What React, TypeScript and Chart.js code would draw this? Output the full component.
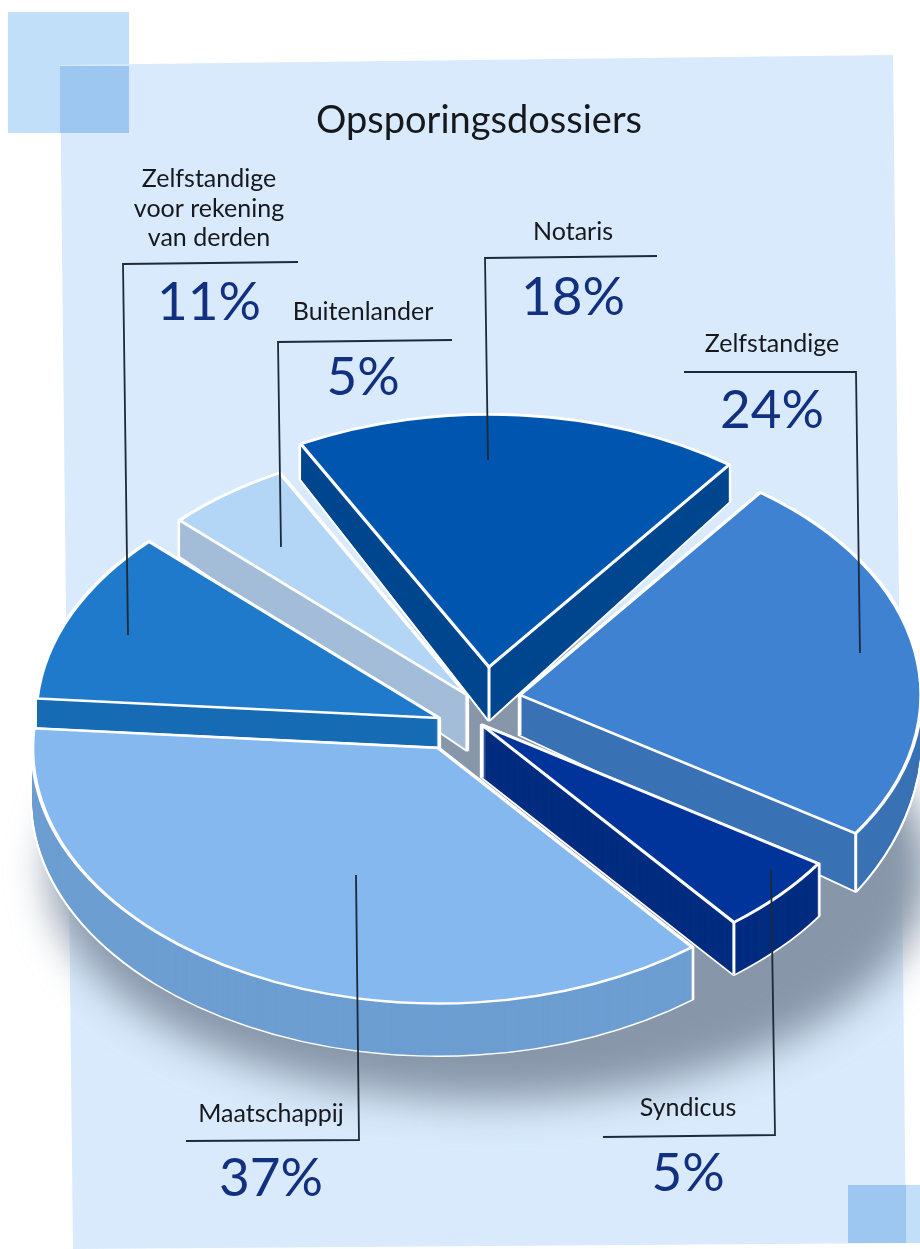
import { useEffect, useRef } from "react";
import { Chart, registerables } from "chart.js";

Chart.register(...registerables);

// Share of investigation files per type of party, clockwise from the top slice.
const categories = ["Notaris", "Zelfstandige", "Syndicus", "Maatschappij", "Zelfstandige voor rekening van derden", "Buitenlander"];
const shares = [18, 24, 5, 37, 11, 5];
const title = "Opsporingsdossiers";

const topColors = ["#0055ae", "#3f82d2", "#00349a", "#85b8ee", "#1f7acb", "#b3d5f6"];
const sideColors = ["#00468f", "#3a72b5", "#022c80", "#6d9ed2", "#176cb4", "#a3bdd9"];

// Exploded apex of each slice, relative to the pie's centre on the page.
const pieCentre = { x: 470, y: 715 };
const apexShift = [[19, -48], [50, -20], [12, 10], [-32, 33], [-31, 3], [-3, -20]];
const radiusScale = [1.002, 1.003, 1.005, 1.014, 1.008, 0.998];
const sideDepth = [53, 40, 52, 52, 54, 55];
const depthStretch = [1.08, 1.128, 1, 1, 1, 1.11];
const ridges = [["apex"], ["apex", "end"], ["apex", "end"], [], ["apex"], ["apex"]];
const paintOrder = [5, 4, 0, 1, 3, 2];
const TILT = 0.63;
const RADIUS = 400;
const ROTATION = -28;

// Text and leader lines, indexed like the categories.
const nameLines = [["Notaris"], ["Zelfstandige"], ["Syndicus"], ["Maatschappij"], ["Zelfstandige", "voor rekening", "van derden"], ["Buitenlander"]];
const nameSpots = [[573, 240], [772, 352], [688, 1116], [271, 1122], [209, 187], [363, 320]];
const shareSpots = [[573, 315], [772, 428], [688, 1191], [271, 1196], [209, 320], [363, 395]];
const leaders = [
  [[657, 256], [485, 258], [488, 460]],
  [[684, 372], [856, 372], [860, 653]],
  [[603, 1137], [775, 1135], [771, 870]],
  [[186, 1141], [359, 1140], [356, 875]],
  [[298, 262], [123, 264], [128, 635]],
  [[452, 340], [278, 342], [281, 547]],
];

const FONT = 'Lato, "Open Sans", sans-serif';

function drawBackdrop(ctx: CanvasRenderingContext2D) {
  ctx.save();
  ctx.fillStyle = "#ffffff";
  ctx.fillRect(0, 0, 920, 1249);
  ctx.fillStyle = "#c1dff9";
  ctx.fillRect(8, 12, 121, 121);
  ctx.fillRect(848, 1185, 72, 58);
  ctx.fillStyle = "#d8eafb";
  ctx.beginPath();
  ctx.moveTo(60, 65);
  ctx.lineTo(893, 55);
  ctx.lineTo(906, 1243);
  ctx.lineTo(73, 1249);
  ctx.closePath();
  ctx.fill();
  ctx.fillStyle = "#9dc6f0";
  ctx.fillRect(60, 66, 69, 67);
  ctx.fillRect(848, 1185, 58, 58);
  ctx.restore();
}

function drawFloorShadow(ctx: CanvasRenderingContext2D) {
  ctx.save();
  ctx.filter = "blur(20px)";
  ctx.fillStyle = "#8796a8";
  ctx.beginPath();
  ctx.ellipse(490, 870, 440, 230, 0, 0, Math.PI * 2);
  ctx.fill();
  ctx.restore();
}

function placeSlice(ctx: CanvasRenderingContext2D, arc: any, i: number, drop: number) {
  const apexX = pieCentre.x + apexShift[i][0];
  const apexY = pieCentre.y + apexShift[i][1];
  const f = sideDepth[i] ? drop / sideDepth[i] : 0;
  const stretch = 1 + (depthStretch[i] - 1) * f;
  ctx.translate(apexX, apexY + drop);
  ctx.scale(radiusScale[i], TILT * radiusScale[i] * stretch);
  ctx.translate(-arc.x, -arc.y);
}

function paintArc(ctx: CanvasRenderingContext2D, arc: any, i: number, drop: number, over: object) {
  const kept = arc.options;
  arc.options = { ...kept, ...over };
  ctx.save();
  placeSlice(ctx, arc, i, drop);
  arc.draw(ctx);
  ctx.restore();
  arc.options = kept;
}

function drawSlice(ctx: CanvasRenderingContext2D, arc: any, i: number) {
  const depth = sideDepth[i];
  // White halo round the whole block, then the solid side, then the top face.
  for (let d = depth; d >= 0; d--) {
    paintArc(ctx, arc, i, d, { backgroundColor: "#ffffff", borderColor: "#ffffff", borderWidth: 4.5, borderJoinStyle: "round" });
  }
  for (let d = depth; d >= 0; d--) {
    paintArc(ctx, arc, i, d, { backgroundColor: sideColors[i], borderColor: sideColors[i], borderWidth: 0 });
  }
  const apexX = pieCentre.x + apexShift[i][0];
  const apexY = pieCentre.y + apexShift[i][1];
  ctx.save();
  ctx.strokeStyle = "#ffffff";
  ctx.lineWidth = 3;
  for (const kind of ridges[i]) {
    const r = arc.outerRadius * radiusScale[i];
    const cos = kind === "end" ? Math.cos(arc.endAngle) : 0;
    const sin = kind === "end" ? Math.sin(arc.endAngle) : 0;
    const x = apexX + r * cos;
    ctx.beginPath();
    ctx.moveTo(x, apexY + r * TILT * sin);
    ctx.lineTo(x, apexY + depth + r * TILT * depthStretch[i] * sin);
    ctx.stroke();
  }
  ctx.restore();
  paintArc(ctx, arc, i, 0, { backgroundColor: topColors[i], borderColor: "#ffffff", borderWidth: 3.8, borderJoinStyle: "round" });
}

function drawAnnotations(ctx: CanvasRenderingContext2D) {
  ctx.save();
  ctx.strokeStyle = "#1e2a38";
  ctx.lineWidth = 1.8;
  for (const path of leaders) {
    ctx.beginPath();
    path.forEach(([x, y], k) => (k ? ctx.lineTo(x, y) : ctx.moveTo(x, y)));
    ctx.stroke();
  }
  ctx.textAlign = "center";
  ctx.textBaseline = "alphabetic";
  ctx.fillStyle = "#16181d";
  ctx.font = `38px ${FONT}`;
  ctx.fillText(title, 479, 133);
  ctx.font = `25px ${FONT}`;
  nameLines.forEach((lines, i) => {
    lines.forEach((line, k) => ctx.fillText(line, nameSpots[i][0], nameSpots[i][1] + k * 29.5));
  });
  ctx.fillStyle = "#11307f";
  ctx.font = `53px ${FONT}`;
  shares.forEach((v, i) => ctx.fillText(`${v}%`, shareSpots[i][0], shareSpots[i][1]));
  ctx.restore();
}

const tiltedPie = {
  id: "tiltedPie",
  beforeDatasetsDraw(chart: any) {
    const ctx = chart.ctx as CanvasRenderingContext2D;
    const arcs = chart.getDatasetMeta(0).data;
    drawBackdrop(ctx);
    drawFloorShadow(ctx);
    for (const i of paintOrder) drawSlice(ctx, arcs[i], i);
    drawAnnotations(ctx);
    return false;
  },
};

export default function App() {
  const ref = useRef<HTMLCanvasElement>(null);
  useEffect(() => {
    const chart = new Chart(ref.current!, {
      type: "pie",
      data: {
        labels: categories,
        datasets: [{ data: shares, backgroundColor: topColors, borderWidth: 0 }],
      },
      options: {
        animation: false,
        responsive: false,
        rotation: ROTATION,
        radius: RADIUS,
        plugins: { legend: { display: false }, tooltip: { enabled: false } },
      },
      plugins: [tiltedPie],
    } as any);
    return () => chart.destroy();
  }, []);
  return (
    <div style={{ position: "absolute", left: 0, top: 0, width: 920, height: 1249, overflow: "hidden" }}>
      <canvas ref={ref} width={920} height={1249} style={{ display: "block" }} />
    </div>
  );
}
